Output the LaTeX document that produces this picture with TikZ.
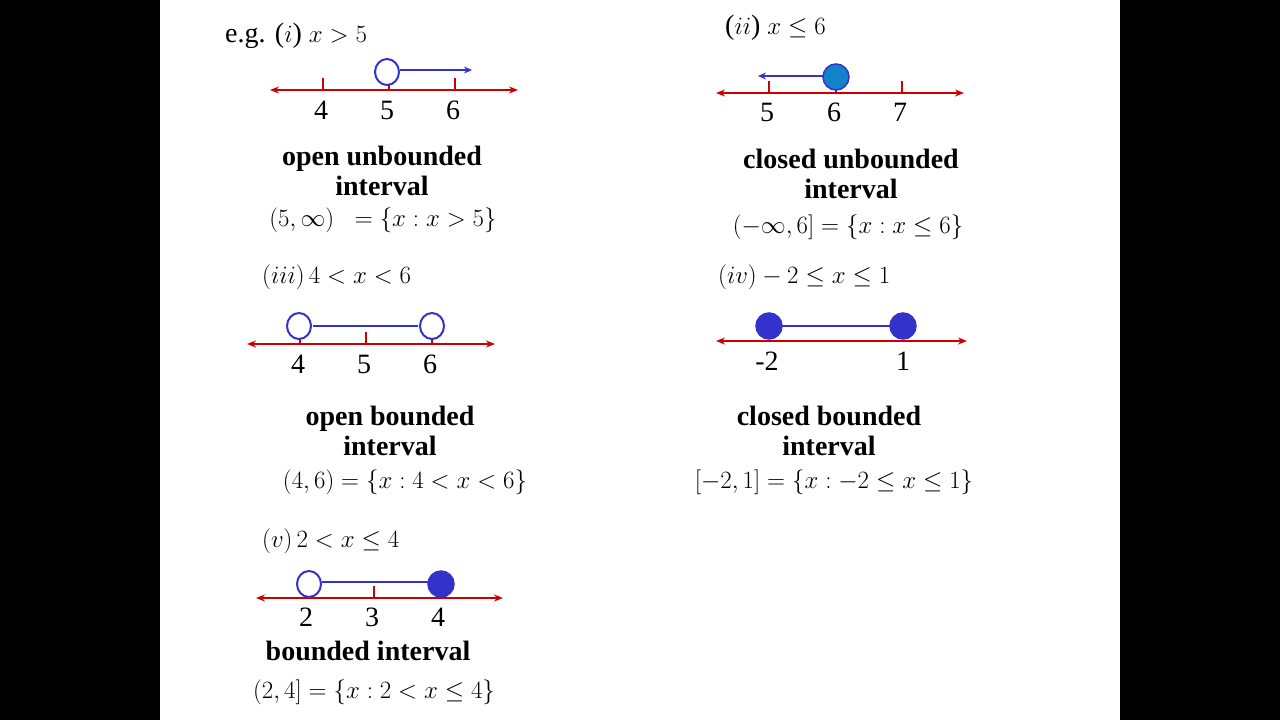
\documentclass[tikz,border=0pt]{standalone}
\usepackage{fontspec}
\setmainfont{Liberation Serif}
\usetikzlibrary{arrows.meta}
\definecolor{rl}{RGB}{204,0,0}
\definecolor{bl}{RGB}{51,51,204}
\definecolor{tl}{RGB}{20,130,200}
\begin{document}
\begin{tikzpicture}[x=1pt,y=-1pt,
 txt/.style={inner sep=0pt,font=\fontsize{28}{30}\selectfont},
 lab/.style={inner sep=0pt,font=\fontsize{28}{30}\selectfont\bfseries,align=center},
 axis/.style={rl,line width=2pt,{Stealth[length=9pt,width=7pt]}-{Stealth[length=9pt,width=7pt]}},
 tick/.style={rl,line width=2pt},
 seg/.style={bl,line width=2pt},
 opn/.style={draw=bl,line width=2pt,ellipse,fill=white},
 cls/.style={draw=bl,line width=1.5pt,fill=bl}]
\fill[black] (0,0) rectangle (1280,720);
\fill[white] (160,0) rectangle (1120,720);
\useasboundingbox (0,0) rectangle (1280,720);
% (i)
\node[txt,anchor=west] (t1) at (225,36) {e.g. ($i$) $x>5$};
\coordinate (a1) at (270,90); \coordinate (b1) at (518,90);
\draw[axis] (a1) -- (b1);
\foreach \x/\n in {323/4,389/5,455/6}{\draw[tick] (\x,78) -- (\x,90); \node[txt] (n1\n) at (\x-2,110) {\n};}
\coordinate (s1) at (400,70); \coordinate (e1) at (472,70);
\draw[seg,-{Stealth[length=8pt,width=7pt]}] (s1) -- (e1);
\draw[bl,line width=2pt,fill=white] (387,72) ellipse (12 and 13);
\node[lab] (l1) at (382,171) {open unbounded\\interval};
\node[txt] (m1) at (383,220) {$(5,\infty)\;\;=\bigl\{x:x>5\bigr\}$};
% (ii)
\node[txt,anchor=west] (t2) at (725,28) {($ii$) $x\le 6$};
\coordinate (a2) at (716,93); \coordinate (b2) at (964,93);
\draw[axis] (a2) -- (b2);
\foreach \x/\n in {769/5,836/6,902/7}{\draw[tick] (\x,81) -- (\x,93); \node[txt] (n2\n) at (\x-2,112) {\n};}
\coordinate (s2) at (825,76); \coordinate (e2) at (758,76);
\draw[seg,-{Stealth[length=8pt,width=7pt]}] (s2) -- (e2);
\draw[bl,line width=1.5pt,fill=tl] (836,77) circle (13);
\node[lab] (l2) at (851,174) {closed unbounded\\interval};
\node[txt] (m2) at (848,227) {$(-\infty,6]=\bigl\{x:x\le 6\bigr\}$};
% (iii)
\node[txt,anchor=west] (t3) at (262,277) {$\bigl(iii\bigr)\,4<x<6$};
\coordinate (a3) at (247,344); \coordinate (b3) at (495,344);
\draw[axis] (a3) -- (b3);
\foreach \x/\n in {300/4,366/5,432/6}{\draw[tick] (\x,332) -- (\x,344); \node[txt] (n3\n) at (\x-2,364) {\n};}
\draw[seg] (313,326) -- (418,326);
\draw[bl,line width=2pt,fill=white] (299,326) ellipse (12 and 13);
\draw[bl,line width=2pt,fill=white] (432,326) ellipse (12 and 13);
\node[lab] (l3) at (390,431) {open bounded\\interval};
\node[txt] (m3) at (405,482) {$(4,6)=\bigl\{x:4<x<6\bigr\}$};
% (iv)
\node[txt,anchor=west] (t4) at (718,277) {$\bigl(iv\bigr)-2\le x\le 1$};
\coordinate (a4) at (716,341); \coordinate (b4) at (967,341);
\draw[axis] (a4) -- (b4);
\node[txt] (n4a) at (767,361) {-2};
\node[txt] (n4b) at (903,361) {1};
\draw[seg] (769,326) -- (903,326);
\draw[cls] (769,326) circle (13);
\draw[cls] (903,326) circle (13);
\node[lab] (l4) at (829,431) {closed bounded\\interval};
\node[txt] (m4) at (834,482) {$\bigl[-2,1\bigr]=\bigl\{x:-2\le x\le 1\bigr\}$};
% (v)
\node[txt,anchor=west] (t5) at (262,541) {$\bigl(v\bigr)\,2<x\le 4$};
\coordinate (a5) at (256,598); \coordinate (b5) at (503,598);
\draw[axis] (a5) -- (b5);
\foreach \x/\n in {308/2,374/3,440/4}{\draw[tick] (\x,586) -- (\x,598); \node[txt] (n5\n) at (\x-2,617) {\n};}
\draw[seg] (322,582) -- (441,582);
\draw[bl,line width=2pt,fill=white] (309,584) ellipse (12 and 13);
\draw[cls] (441,584) circle (13);
\node[lab] (l5) at (368,651) {bounded interval};
\node[txt] (m5) at (374,692) {$(2,4]=\bigl\{x:2<x\le 4\bigr\}$};
\end{tikzpicture}
\end{document}
